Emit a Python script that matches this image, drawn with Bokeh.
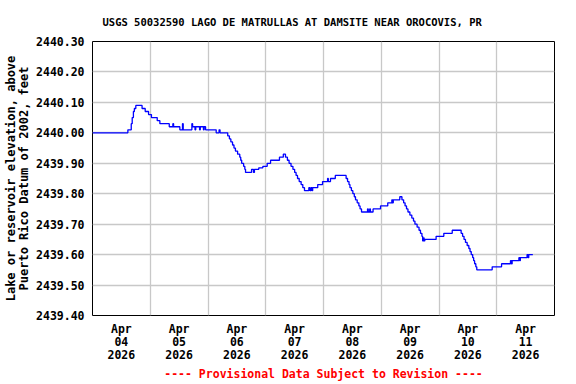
from bokeh.plotting import figure
from bokeh.models import FixedTicker, Range1d, NumeralTickFormatter
from bokeh.embed import file_html
from bokeh.resources import INLINE

# hours since 2026-04-04 00:00 (local), lake elevation in feet
hours = [0, 14.7, 16.1, 16.5, 17.0, 17.4, 18.0, 20.6, 21.9, 23.3, 24.5, 26.9, 28.0,
         31.9, 33.4, 33.7, 36.3, 37.4, 37.7, 41.3, 41.6, 42.6, 42.9, 44.5, 44.8,
         46.1, 46.4, 47.0, 51.4, 52.6, 53.0, 56.2, 56.9, 57.5, 58.2, 58.8, 59.4,
         60.3, 61.2, 61.6, 62.0, 62.8, 63.3, 63.6, 66.1, 66.9, 67.3, 69.1, 70.8,
         72.6, 74.0, 77.7, 79.3, 80.2, 81.0, 81.7, 82.5, 83.3, 84.0, 84.6, 85.2,
         85.9, 86.7, 87.4, 88.1, 89.9, 90.4, 90.8, 91.2, 91.5, 93.6, 95.6, 97.7,
         98.0, 98.9, 100.9, 105.4, 106.0, 106.6, 107.0, 107.6, 108.2, 108.8, 109.3,
         110.0, 110.7, 111.2, 111.8, 114.3, 114.6, 115.2, 115.5, 116.6, 119.7,
         122.7, 124.4, 124.7, 125.0, 127.7, 128.6, 129.3, 129.9, 130.5, 131.1,
         131.9, 132.7, 133.4, 134.0, 134.9, 135.7, 136.3, 136.9, 137.2, 137.6,
         137.8, 138.1, 142.8, 146.0, 149.5, 153.2, 153.8, 154.4, 155.0, 155.7,
         156.4, 156.9, 157.4, 158.0, 158.4, 158.8, 159.3, 159.7, 166.1, 170.0,
         173.7, 174.1, 174.4, 177.2, 177.5, 177.8, 180.6, 181.0, 181.3, 183.0]
elev = [2440.00, 2440.01, 2440.03, 2440.05, 2440.07, 2440.08, 2440.09, 2440.08, 2440.07,
        2440.06, 2440.05, 2440.04, 2440.03, 2440.02, 2440.03, 2440.02, 2440.01, 2440.03,
        2440.01, 2440.03, 2440.02, 2440.01, 2440.02, 2440.01, 2440.02, 2440.01, 2440.02,
        2440.01, 2440.00, 2440.01, 2440.00, 2439.99, 2439.98, 2439.97, 2439.96, 2439.95,
        2439.94, 2439.93, 2439.92, 2439.91, 2439.90, 2439.89, 2439.88, 2439.87, 2439.88,
        2439.87, 2439.88, 2439.885, 2439.89, 2439.90, 2439.91, 2439.92, 2439.93, 2439.92,
        2439.91, 2439.90, 2439.89, 2439.88, 2439.87, 2439.86, 2439.85, 2439.84, 2439.83,
        2439.82, 2439.81, 2439.82, 2439.81, 2439.82, 2439.81, 2439.82, 2439.83, 2439.84,
        2439.85, 2439.84, 2439.85, 2439.86, 2439.85, 2439.84, 2439.83, 2439.82, 2439.81,
        2439.80, 2439.79, 2439.78, 2439.77, 2439.76, 2439.75, 2439.74, 2439.75, 2439.74,
        2439.75, 2439.74, 2439.75, 2439.76, 2439.77, 2439.78, 2439.77, 2439.78, 2439.79,
        2439.78, 2439.77, 2439.76, 2439.75, 2439.74, 2439.73, 2439.72, 2439.71, 2439.70,
        2439.69, 2439.68, 2439.67, 2439.66, 2439.645, 2439.655, 2439.645, 2439.65, 2439.66,
        2439.67, 2439.68, 2439.67, 2439.66, 2439.65, 2439.64, 2439.63, 2439.62, 2439.61,
        2439.60, 2439.59, 2439.58, 2439.57, 2439.56, 2439.55, 2439.56, 2439.57, 2439.58,
        2439.57, 2439.58, 2439.59, 2439.58, 2439.59, 2439.60, 2439.59, 2439.60, 2439.60]

label_hours = [12, 36, 60, 84, 108, 132, 156, 180]
day_labels = ["Apr\n04\n2026", "Apr\n05\n2026", "Apr\n06\n2026", "Apr\n07\n2026",
              "Apr\n08\n2026", "Apr\n09\n2026", "Apr\n10\n2026", "Apr\n11\n2026"]
grid_hours = [24, 48, 72, 96, 120, 144, 168]
y_ticks = [2439.40, 2439.50, 2439.60, 2439.70, 2439.80, 2439.90,
           2440.00, 2440.10, 2440.20, 2440.30]

FONT = "DejaVu Sans Mono"

p = figure(width=576, height=384, output_backend="svg", toolbar_location=None,
           x_range=Range1d(0, 192), y_range=Range1d(2439.40, 2440.30),
           min_border_left=92, min_border_right=22, min_border_top=41,
           min_border_bottom=69)

p.title.text = "USGS 50032590 LAGO DE MATRULLAS AT DAMSITE NEAR OROCOVIS, PR"
p.title.align = "left"
p.title.offset = 10
p.title.text_font = FONT
p.title.text_font_size = "10.5px"
p.title.text_font_style = "bold"
p.title.text_color = "black"
p.title.standoff = 27

p.outline_line_color = "black"
p.outline_line_width = 1
p.background_fill_color = "white"
p.border_fill_color = "white"

# x axis
xa = p.xaxis[0]
xa.ticker = FixedTicker(ticks=label_hours)
xa.major_label_overrides = {h: lab for h, lab in zip(label_hours, day_labels)}
xa.major_tick_line_color = None
xa.minor_tick_line_color = None
xa.major_tick_out = 0
xa.major_tick_in = 0
xa.axis_line_color = None
xa.major_label_text_font = FONT
xa.major_label_text_font_size = "11.5px"
xa.major_label_text_font_style = "bold"
xa.major_label_text_color = "black"
xa.major_label_text_line_height = 0.95
xa.major_label_standoff = 6
xa.axis_label = "---- Provisional Data Subject to Revision ----"
xa.axis_label_text_font = FONT
xa.axis_label_text_font_size = "11.5px"
xa.axis_label_text_font_style = "bold"
xa.axis_label_text_color = "#ff0000"
xa.axis_label_standoff = 2

# y axis
ya = p.yaxis[0]
ya.ticker = FixedTicker(ticks=y_ticks)
ya.formatter = NumeralTickFormatter(format="0.00")
ya.major_tick_line_color = None
ya.minor_tick_line_color = None
ya.major_tick_out = 0
ya.major_tick_in = 0
ya.axis_line_color = None
ya.major_label_text_font = FONT
ya.major_label_text_font_size = "11.5px"
ya.major_label_text_font_style = "bold"
ya.major_label_text_color = "black"
ya.major_label_standoff = 8
ya.axis_label = "Lake or reservoir elevation, above\nPuerto Rico Datum of 2002, feet"
ya.axis_label_text_font = FONT
ya.axis_label_text_font_size = "12px"
ya.axis_label_text_font_style = "bold"
ya.axis_label_text_color = "black"
ya.axis_label_text_line_height = 0.95
ya.axis_label_standoff = 2

# grids
p.xgrid.ticker = FixedTicker(ticks=grid_hours)
p.xgrid.grid_line_color = "#c8c8c8"
p.xgrid.grid_line_width = 1.3
p.ygrid.ticker = FixedTicker(ticks=y_ticks)
p.ygrid.grid_line_color = "#c8c8c8"
p.ygrid.grid_line_width = 1.3

p.step(hours, elev, mode="after", line_color="#0000ff", line_width=1.3)

open("out.html", "w").write(file_html(p, INLINE))
